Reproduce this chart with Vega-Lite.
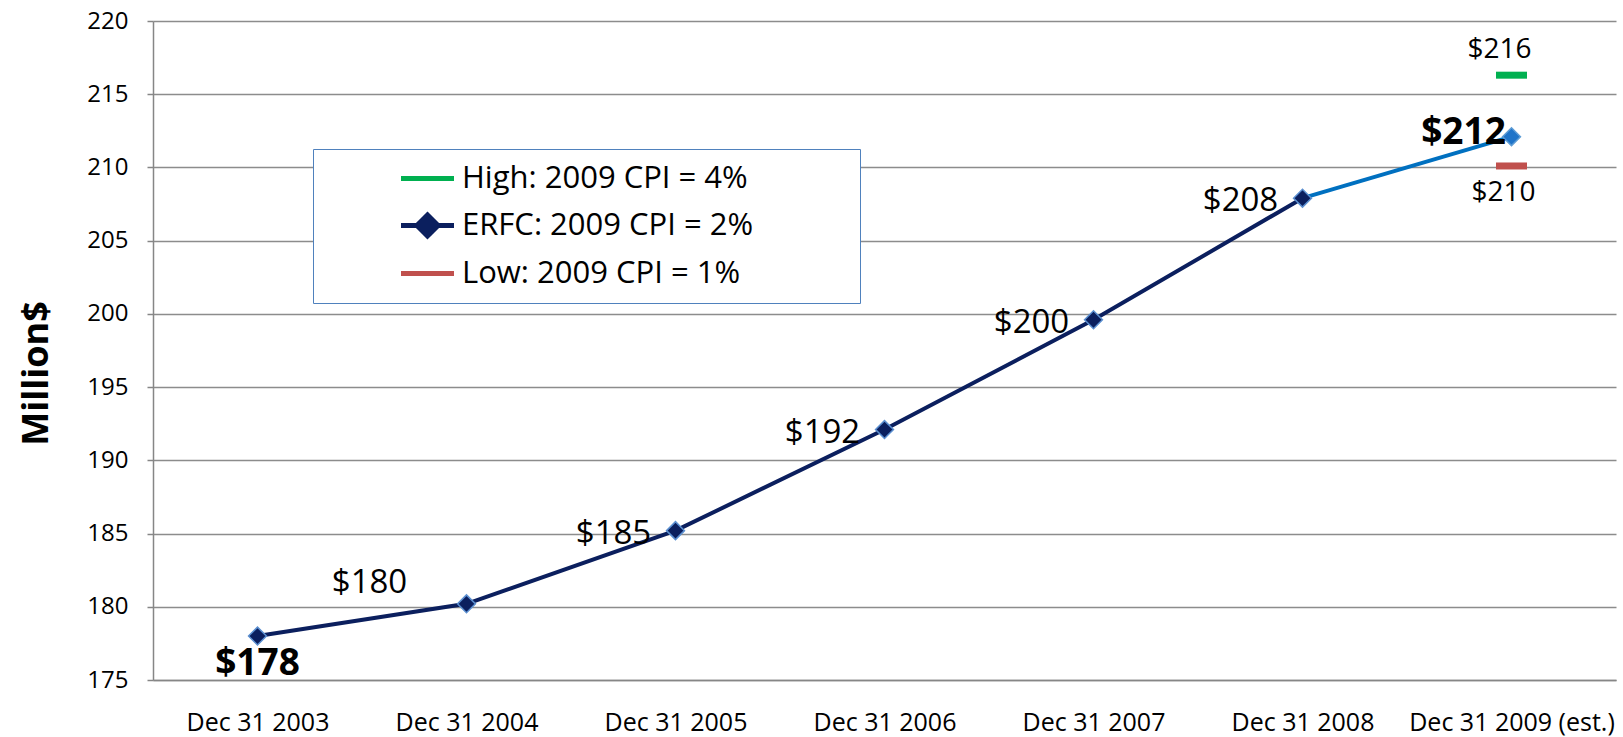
{
  "$schema": "https://vega.github.io/schema/vega-lite/v6.json",
  "width": 1463,
  "height": 659,
  "autosize": {"type": "none"},
  "padding": {"left": 153, "top": 21, "right": 7, "bottom": 57},
  "background": "white",
  "config": {"font": "Open Sans", "view": {"stroke": null}},
  "data": {
    "values": [
      {"date": "Dec 31 2003", "value": 178.0, "series": "ERFC: 2009 CPI = 2%"},
      {"date": "Dec 31 2004", "value": 180.2, "series": "ERFC: 2009 CPI = 2%"},
      {"date": "Dec 31 2005", "value": 185.2, "series": "ERFC: 2009 CPI = 2%"},
      {"date": "Dec 31 2006", "value": 192.1, "series": "ERFC: 2009 CPI = 2%"},
      {"date": "Dec 31 2007", "value": 199.6, "series": "ERFC: 2009 CPI = 2%"},
      {"date": "Dec 31 2008", "value": 207.9, "series": "ERFC: 2009 CPI = 2%"},
      {"date": "Dec 31 2009 (est.)", "value": 212.1, "series": "ERFC: 2009 CPI = 2%"},
      {"date": "Dec 31 2009 (est.)", "value": 216.3, "series": "High: 2009 CPI = 4%"},
      {"date": "Dec 31 2009 (est.)", "value": 210.1, "series": "Low: 2009 CPI = 1%"}
    ]
  },
  "encoding": {
    "x": {
      "field": "date",
      "type": "ordinal",
      "scale": {
        "type": "point",
        "padding": 0.5,
        "domain": ["Dec 31 2003", "Dec 31 2004", "Dec 31 2005", "Dec 31 2006", "Dec 31 2007", "Dec 31 2008", "Dec 31 2009 (est.)"]
      },
      "axis": {
        "title": null,
        "ticks": false,
        "grid": false,
        "domainColor": "#868686",
        "domainWidth": 1.5,
        "labelFontSize": 25,
        "labelColor": "black",
        "labelPadding": 30,
        "labelAngle": 0,
        "labelLimit": 400
      }
    },
    "y": {
      "field": "value",
      "type": "quantitative",
      "scale": {"domain": [175, 220], "nice": false, "zero": false},
      "axis": {
        "title": "Million$",
        "titleFontSize": 36,
        "titleFontWeight": "bold",
        "titleColor": "black",
        "titleX": -117,
        "titleY": 352,
        "titleAngle": -90,
        "titleBaseline": "middle",
        "titleAlign": "center",
        "values": [175, 180, 185, 190, 195, 200, 205, 210, 215, 220],
        "grid": true,
        "gridColor": "#8c8c8c",
        "gridWidth": 1.5,
        "domainColor": "#868686",
        "domainWidth": 1.5,
        "tickColor": "#868686",
        "tickSize": 6,
        "tickWidth": 1.5,
        "labelFontSize": 24,
        "labelColor": "black",
        "labelPadding": 19
      }
    }
  },
  "layer": [
    {
      "transform": [{"filter": {"and": [{"field": "series", "equal": "ERFC: 2009 CPI = 2%"}, {"not": {"field": "date", "equal": "Dec 31 2009 (est.)"}}]}}],
      "mark": {"type": "line", "color": "#0B1F5E", "strokeWidth": 4}
    },
    {
      "transform": [{"filter": {"and": [{"field": "series", "equal": "ERFC: 2009 CPI = 2%"}, {"field": "date", "oneOf": ["Dec 31 2008", "Dec 31 2009 (est.)"]}]}}],
      "mark": {"type": "line", "color": "#0070C0", "strokeWidth": 4}
    },
    {
      "transform": [{"filter": {"and": [{"field": "series", "equal": "ERFC: 2009 CPI = 2%"}, {"not": {"field": "date", "equal": "Dec 31 2009 (est.)"}}]}}],
      "mark": {"type": "point", "shape": "diamond", "filled": true, "fill": "#0B1F5E", "stroke": "#5B8FD0", "strokeWidth": 1.5, "size": 320, "opacity": 1}
    },
    {
      "transform": [{"filter": {"and": [{"field": "series", "equal": "ERFC: 2009 CPI = 2%"}, {"field": "date", "equal": "Dec 31 2009 (est.)"}]}}],
      "mark": {"type": "point", "shape": "diamond", "filled": true, "fill": "#1F74C9", "stroke": "#5B9BD5", "strokeWidth": 1.5, "size": 320, "opacity": 1}
    },
    {
      "transform": [{"filter": {"not": {"field": "series", "equal": "ERFC: 2009 CPI = 2%"}}}],
      "mark": {"type": "tick", "size": 31, "thickness": 7, "opacity": 1},
      "encoding": {
        "color": {
          "field": "series",
          "type": "nominal",
          "scale": {
            "domain": ["High: 2009 CPI = 4%", "ERFC: 2009 CPI = 2%", "Low: 2009 CPI = 1%"],
            "range": ["#00B050", "#0B1F5E", "#C0504D"]
          },
          "legend": {
            "title": null,
            "orient": "none",
            "legendX": 160,
            "legendY": 128,
            "direction": "vertical",
            "fillColor": "white",
            "strokeColor": "#4F81BD",
            "padding": 14,
            "labelFontSize": 31,
            "labelColor": "black",
            "labelFont": "Open Sans",
            "labelLimit": 900,
            "symbolSize": 100,
            "symbolOffset": 85,
            "labelOffset": 19,
            "rowPadding": 11,
            "symbolStrokeWidth": 5,
            "symbolOpacity": 1,
            "symbolType": {"expr": "indexof(datum.label, 'ERFC') === 0 ? 'M-5.3,0H5.3M0,-2.1L2.1,0L0,2.1L-2.1,0Z' : 'M-5.3,0H5.3'"},
            "symbolStrokeColor": {"expr": "indexof(datum.label, 'High') === 0 ? '#00B050' : (indexof(datum.label, 'Low') === 0 ? '#C0504D' : '#0B1F5E')"},
            "labelExpr": "datum.label + '\u2800\u2800\u2800\u2800'"
          }
        }
      }
    },
    {
      "transform": [{"filter": {"field": "date", "equal": "Dec 31 2003"}}],
      "mark": {"type": "text", "fontSize": 37, "fontWeight": "bold", "color": "black", "dy": 28, "align": "center", "baseline": "middle"},
      "encoding": {"text": {"field": "value", "type": "quantitative", "format": "$.0f"}}
    },
    {
      "transform": [{"filter": {"field": "date", "equal": "Dec 31 2004"}}],
      "mark": {"type": "text", "fontSize": 33, "color": "black", "dx": -97, "dy": -21, "align": "center", "baseline": "middle"},
      "encoding": {"text": {"field": "value", "type": "quantitative", "format": "$.0f"}}
    },
    {
      "transform": [{"filter": {"field": "date", "oneOf": ["Dec 31 2005", "Dec 31 2006", "Dec 31 2007", "Dec 31 2008"]}}],
      "mark": {"type": "text", "fontSize": 33, "color": "black", "dx": -62, "dy": 3, "align": "center", "baseline": "middle"},
      "encoding": {"text": {"field": "value", "type": "quantitative", "format": "$.0f"}}
    },
    {
      "transform": [{"filter": {"and": [{"field": "series", "equal": "ERFC: 2009 CPI = 2%"}, {"field": "date", "equal": "Dec 31 2009 (est.)"}]}}],
      "mark": {"type": "text", "fontSize": 37, "fontWeight": "bold", "color": "black", "dx": -48, "dy": -4, "align": "center", "baseline": "middle"},
      "encoding": {"text": {"field": "value", "type": "quantitative", "format": "$.0f"}}
    },
    {
      "transform": [{"filter": {"field": "series", "equal": "High: 2009 CPI = 4%"}}],
      "mark": {"type": "text", "fontSize": 28, "color": "black", "dx": -12, "dy": -25, "align": "center", "baseline": "middle"},
      "encoding": {"text": {"field": "value", "type": "quantitative", "format": "$.0f"}}
    },
    {
      "transform": [{"filter": {"field": "series", "equal": "Low: 2009 CPI = 1%"}}],
      "mark": {"type": "text", "fontSize": 28, "color": "black", "dx": -8, "dy": 27, "align": "center", "baseline": "middle"},
      "encoding": {"text": {"field": "value", "type": "quantitative", "format": "$.0f"}}
    }
  ]
}
